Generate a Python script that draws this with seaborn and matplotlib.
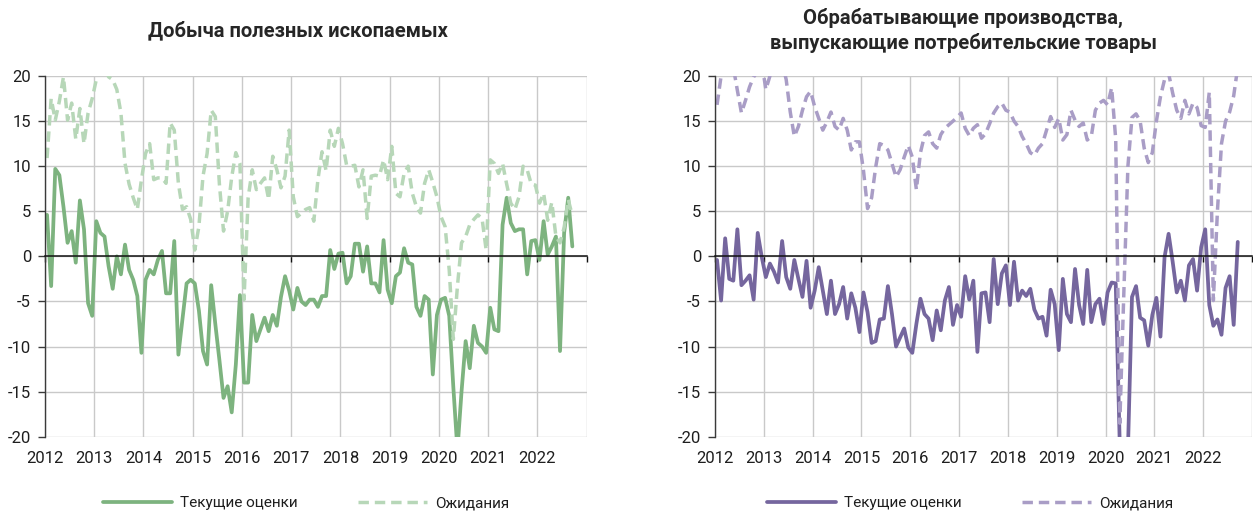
import matplotlib
matplotlib.use("Agg")
import matplotlib.pyplot as plt
import numpy as np
import pandas as pd
import seaborn as sns

# Monthly survey balances, Jan 2012 - Sep 2022
months = pd.date_range("2012-01-01", "2022-09-01", freq="MS")

mining_current = [
    4.6, -3.3, 9.7, 9.0, 5.5, 1.5, 2.8, -0.7, 6.2, 3.0, -5.2, -6.6,
    3.9, 2.6, 2.2, -1.1, -3.6, 0.0, -2.0, 1.3, -1.5, -2.6, -4.4, -10.7,
    -2.6, -1.5, -2.0, -0.4, 0.6, -4.1, -4.1, 1.7, -10.9, -7.0, -3.0, -2.6,
    -3.0, -6.0, -10.5, -12.0, -3.2, -7.5, -11.5, -15.7, -14.4, -17.3, -12.0, -4.3,
    -14.0, -14.0, -6.5, -9.4, -8.1, -6.8, -8.3, -6.5, -7.7, -4.5, -2.2, -3.8,
    -5.9, -3.5, -5.0, -5.4, -4.8, -4.8, -5.6, -4.4, -4.4, 0.7, -1.4, 0.3,
    0.4, -3.0, -2.2, 1.4, 1.4, -1.7, 1.1, -3.0, -3.0, -4.0, 1.8, -3.7,
    -5.2, -2.2, -1.8, 0.9, -0.7, -0.9, -5.6, -6.6, -4.4, -4.8, -13.1, -6.5,
    -4.8, -4.6, -6.6, -14.5, -21.5, -15.0, -9.4, -12.4, -7.7, -9.6, -10.0, -10.7,
    -5.7, -8.1, -8.3, 3.5, 6.5, 3.7, 2.8, 3.0, 3.0, -2.0, 1.7, 1.8,
    -0.4, 3.9, 0.2, 1.1, 2.2, -10.5, 2.6, 6.5, 1.1,
]
mining_expect = [
    10.9, 17.5, 15.1, 17.2, 19.9, 15.1, 17.0, 13.0, 16.4, 12.5, 15.9, 17.5,
    19.6, 21.0, 21.0, 19.9, 19.6, 18.5, 15.9, 10.3, 8.0, 6.5, 5.2, 8.5,
    11.4, 12.5, 8.5, 8.7, 8.7, 8.1, 14.8, 14.0, 8.1, 5.2, 5.5, 4.1,
    0.7, 3.3, 8.9, 11.4, 16.2, 15.5, 8.0, 2.8, 5.0, 8.8, 11.5, 10.3,
    -4.8, 6.5, 9.6, 7.4, 8.1, 8.7, 6.3, 11.1, 9.6, 7.6, 8.9, 14.0,
    6.6, 4.4, 4.8, 5.2, 5.4, 3.9, 8.5, 11.6, 9.5, 14.0, 12.2, 14.2,
    12.5, 10.1, 10.0, 10.1, 7.7, 9.6, 4.2, 8.9, 9.0, 8.9, 10.7, 8.5,
    12.2, 7.0, 6.6, 9.2, 10.0, 7.0, 5.5, 4.8, 8.1, 9.6, 8.2, 6.6,
    4.4, 3.3, -1.5, -9.2, -3.3, 1.5, 2.2, 3.5, 4.1, 4.6, 4.2, 0.7,
    10.7, 10.3, 9.2, 10.3, 8.0, 5.9, 5.2, 6.6, 10.0, 9.6, 8.0, 7.9,
    5.9, 7.0, 4.0, 6.0, 2.2, 1.5, 3.2, 6.3, 4.5,
]
consumer_current = [
    -0.4, -4.9, 2.0, -2.5, -2.7, 3.0, -3.2, -2.7, -2.1, -4.8, 2.6, -0.1,
    -2.3, -0.8, -1.7, -2.9, 1.7, -2.3, -3.6, -0.4, -2.5, -4.5, -0.5, -5.7,
    -3.8, -1.2, -3.8, -6.4, -2.7, -6.4, -5.3, -3.4, -6.9, -4.1, -5.7, -8.4,
    -4.0, -6.2, -9.6, -9.4, -7.0, -6.9, -3.3, -6.4, -10.0, -9.0, -8.0, -10.1,
    -10.7, -7.5, -4.7, -6.4, -6.9, -9.3, -6.0, -8.2, -4.9, -3.4, -7.6, -5.4,
    -6.7, -2.2, -4.8, -2.7, -10.6, -4.1, -4.0, -7.3, -0.3, -5.3, -1.9, -1.0,
    -5.4, -0.6, -4.9, -3.8, -4.4, -3.6, -5.9, -6.9, -6.7, -8.8, -3.7, -5.3,
    -10.4, -2.5, -6.4, -7.3, -1.4, -5.4, -7.5, -1.5, -7.3, -5.3, -4.7, -7.5,
    -4.0, -2.9, -3.0, -21.0, -27.0, -21.5, -4.5, -3.3, -6.8, -7.1, -9.9, -6.5,
    -4.6, -8.9, -0.1, 2.5, -0.6, -4.0, -2.7, -4.9, -1.0, -0.3, -3.8, 1.0,
    3.0, -5.4, -7.7, -7.0, -8.7, -3.5, -2.2, -7.6, 1.6,
]
consumer_expect = [
    16.8, 20.0, 21.5, 20.3, 21.0, 18.4, 15.9, 17.3, 18.8, 19.9, 20.5, 21.5,
    18.5, 20.0, 22.0, 23.0, 21.5, 19.6, 16.0, 13.3, 14.4, 16.2, 17.7, 18.3,
    16.6, 15.3, 14.0, 14.9, 16.0, 14.4, 14.0, 15.3, 14.0, 11.8, 12.7, 12.7,
    9.5, 5.3, 6.5, 9.9, 12.5, 12.3, 11.8, 10.3, 8.8, 9.6, 11.0, 12.3,
    11.0, 7.4, 11.5, 13.4, 13.8, 12.5, 12.0, 13.5, 14.2, 14.6, 15.0, 15.4,
    15.9, 14.2, 13.4, 14.2, 14.6, 13.1, 13.6, 14.7, 15.9, 16.6, 17.0, 16.2,
    16.0, 15.0, 14.4, 13.3, 12.5, 11.5, 11.2, 12.0, 12.5, 14.0, 15.5, 14.3,
    15.3, 12.9, 13.5, 16.2, 15.1, 14.4, 14.8, 12.9, 13.3, 16.2, 17.0, 17.3,
    16.8, 18.7, 13.0, -18.5, -4.0, 10.0, 15.4, 15.8, 15.0, 12.0, 10.4, 11.5,
    15.0, 17.7, 19.6, 20.3, 18.1, 16.2, 15.3, 17.3, 15.8, 17.0, 16.5, 14.5,
    14.3, 18.2, -4.9, 5.0, 12.5, 15.0, 16.0, 17.8, 21.0,
]

year_ticks = list(range(2012, 2024))
year_labels = [str(y) for y in range(2012, 2023)]
value_ticks = [-20, -15, -10, -5, 0, 5, 10, 15, 20]
series_names = ["Текущие оценки", "Ожидания"]
titles = [
    "Добыча полезных ископаемых",
    "Обрабатывающие производства,\nвыпускающие потребительские товары",
]
palettes = [("#7db37f", "#b7d7b8"), ("#75669e", "#a99dc6")]

sns.set_theme(style="white")
plt.rcParams["font.family"] = ["Roboto", "DejaVu Sans"]
plt.rcParams["text.color"] = "#1e1e1e"

W, H = 1253, 513
fig = plt.figure(figsize=(W / 100, H / 100), dpi=100)


def px_box(x0, x1, y_top, y_bot):
    return [x0 / W, 1 - y_bot / H, (x1 - x0) / W, (y_bot - y_top) / H]


ax_left = fig.add_axes(px_box(45, 586.7, 76, 436.7))
ax_right = fig.add_axes(px_box(715, 1252, 76, 436.7))

# Mid-month positions on a fractional-year axis
x_pos = np.asarray(months.year + (months.month - 0.5) / 12, dtype=float)

panels = [
    (ax_left, mining_current, mining_expect, palettes[0]),
    (ax_right, consumer_current, consumer_expect, palettes[1]),
]

for ax, cur, exp, (c_cur, c_exp) in panels:
    df = pd.DataFrame({"x": x_pos, series_names[0]: cur, series_names[1]: exp})
    sns.lineplot(data=df, x="x", y=series_names[0], ax=ax, color=c_cur,
                 linewidth=2.7, label=series_names[0])
    sns.lineplot(data=df, x="x", y=series_names[1], ax=ax, color=c_exp,
                 linewidth=2.5, label=series_names[1])
    dashed = ax.lines[-1]
    dashed.set_dashes((3.0, 1.7))
    dashed.set_dash_capstyle("butt")
    for ln in ax.lines:
        ln.set_solid_joinstyle("round")

    ax.set_xlim(2012, 2023)
    ax.set_ylim(-20, 20)
    ax.set_xticks(year_ticks)
    ax.set_yticks(value_ticks)
    ax.set_yticklabels([str(v) for v in value_ticks])
    ax.set_xlabel("")
    ax.set_ylabel("")
    ax.grid(True, color="#c9c9c9", linewidth=1.0)
    ax.set_axisbelow(True)

    for side in ("top", "right"):
        ax.spines[side].set_visible(False)
    ax.spines["left"].set_color("#3a3a3a")
    ax.spines["left"].set_linewidth(1.0)
    ax.spines["bottom"].set_position(("data", 0))
    ax.spines["bottom"].set_color("#111111")
    ax.spines["bottom"].set_linewidth(1.1)
    ax.tick_params(axis="x", direction="out", length=4, width=1,
                   color="#111111", labelbottom=False, bottom=True)
    ax.tick_params(axis="y", direction="out", length=5, width=1,
                   color="#3a3a3a", labelsize=12, pad=5, left=True,
                   labelcolor="#1e1e1e")

    # Year labels along the bottom edge of the plot area
    sec = ax.secondary_xaxis("bottom")
    sec.set_xticks(list(range(2012, 2023)))
    sec.set_xticklabels(year_labels)
    sec.tick_params(length=0, pad=10, labelsize=12, labelcolor="#1e1e1e")
    sec.spines["bottom"].set_visible(False)

    handles, labels = ax.get_legend_handles_labels()
    if ax.get_legend() is not None:
        ax.get_legend().remove()
    center_x = 306 if ax is ax_left else 970
    fig.legend(handles, labels, loc="center",
               bbox_to_anchor=(center_x / W, 1 - 503 / H), ncol=2,
               frameon=False, fontsize=11, handlelength=4.5,
               handletextpad=0.5, columnspacing=4.0)

fig.text(298 / W, 1 - 30 / H, titles[0], ha="center", va="center",
         fontsize=14.5, fontweight="bold", color="#262626")
fig.text(963 / W, 1 - 30.5 / H, titles[1], ha="center", va="center",
         fontsize=14.5, fontweight="bold", color="#262626", linespacing=1.3)

fig.savefig("out.png", dpi=100)
